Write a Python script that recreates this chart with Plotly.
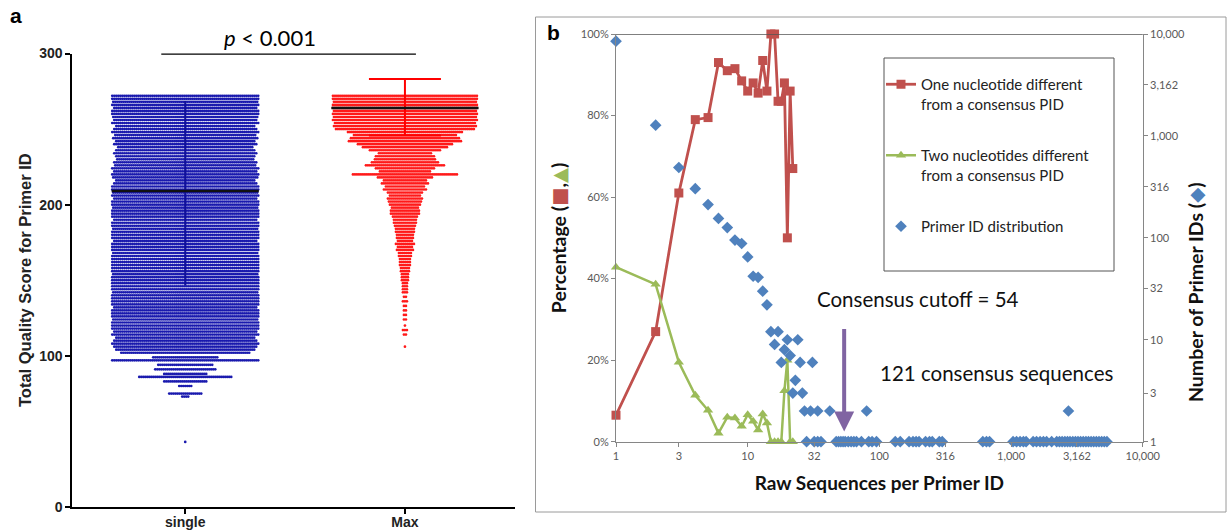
import numpy as np
import plotly.graph_objects as go

# ---------------- Panel a data (dot rows: score level -> number of dots) ----------------
a_categories = ["single", "Max"]
a_positions = [0, 1]

blue_scores = [272, 270, 268, 266, 264, 262, 260, 258, 256, 254,
               252, 250, 248, 246, 244, 242, 240, 238, 236, 234,
               232, 230, 228, 226, 224, 222, 220, 218, 216, 214,
               212, 210, 208, 206, 204, 202, 200, 198, 196, 194,
               192, 190, 188, 186, 184, 182, 180, 178, 176, 174,
               172, 170, 168, 166, 164, 162, 160, 158, 156, 154,
               152, 150, 148, 146, 144, 142, 140, 138, 136, 134,
               132, 130, 128, 126, 124, 122, 120, 118, 116, 114,
               112, 110, 108, 106, 104,
               102, 99, 97, 94, 91, 88, 86, 83, 80, 75, 73, 43]
blue_counts = [74, 74, 73, 74, 72, 74, 74, 73, 72, 74,
               70, 72, 74, 71, 73, 70, 72, 68, 70, 72,
               70, 69, 72, 71, 74, 72, 74, 73, 70, 72,
               74, 74, 73, 74, 72, 74, 74, 73, 74, 74,
               74, 72, 74, 74, 73, 74, 74, 74, 72, 74,
               74, 74, 73, 74, 74, 74, 74, 74, 74, 73,
               74, 74, 74, 74, 74, 73, 74, 74, 74, 74,
               72, 74, 74, 74, 73, 74, 74, 74, 72, 74,
               70, 72, 74, 72, 70,
               65, 33, 74, 28, 31, 22, 47, 22, 7, 17, 4, 1]

red_scores = [272, 270, 268, 266, 264, 262, 260, 258, 256, 254,
              252, 250, 248, 246, 244, 242, 240, 238, 236, 234,
              232, 230, 228, 226, 224, 222, 220, 218, 216, 214,
              212, 210, 208, 206, 204, 202, 200, 198, 196, 194,
              192, 190, 188, 186, 184, 182, 180, 178, 176, 174,
              172, 170, 168, 166, 164, 162, 160, 158, 156, 154,
              152, 150, 148, 146, 144, 142, 139, 136, 133, 130,
              127, 124, 120, 117, 114, 106]
red_counts = [73, 73, 72, 73, 73, 72, 73, 72, 73, 71,
              72, 70, 58, 52, 55, 57, 48, 43, 36, 27,
              30, 31, 34, 40, 30, 26, 53, 28, 22, 24,
              20, 22, 18, 16, 18, 17, 16, 14, 15, 15,
              13, 12, 12, 11, 10, 10, 9, 9, 8, 10,
              8, 9, 7, 7, 6, 6, 6, 5, 5, 4,
              4, 4, 3, 3, 3, 3, 2, 3, 2, 2,
              2, 2, 1, 3, 2, 1]

a_medians = [209, 264]
a_means = [207.5, 264.5]
a_sds = [61, 18.7]
p_label = "<i>p</i> < 0.001"

# ---------------- Panel b data ----------------
raw_seq = [1, 2, 3, 4, 5, 6, 7, 8, 9, 10, 11, 12, 13, 14, 15, 16, 17, 18, 19, 20, 21, 22]
one_nt_pct = [6.5, 27, 61, 79, 79.5, 93, 91, 91.5, 88.5, 86, 88, 85.5, 93.5, 86,
              100, 100, 83.5, 83.5, 88, 50, 86, 67]
two_nt_pct = [42.8, 38.6, 19.5, 11.4, 7.7, 2.1, 6.0, 5.8, 3.8, 6.6, 5.0, 2.9, 6.8, 4.6,
              0, 0, 0, 0, 12.5, 20, 0, 0]

pid_x = [1, 2, 3, 4, 5, 6, 7, 8, 9, 10, 11, 12, 13, 14, 15, 16, 17, 18, 19, 20,
         21, 22, 23, 24, 25, 26, 27, 30, 31, 34, 42, 80, 2725,
         28, 32, 34, 36, 47, 49, 51, 53, 55, 58, 61, 64, 67, 73, 83, 88, 95,
         132, 144, 168, 180, 190, 200, 224, 240, 252, 285, 300, 610, 650, 686,
         1035, 1100, 1170, 1240, 1300, 1470, 1560, 1660, 1760, 1860, 2031,
         2220, 2330, 2440, 2560, 2680, 2800, 2940, 3080, 3220, 3370, 3530, 3700,
         3870, 4050, 4240, 4440, 4650, 4870, 5100, 5340]
pid_n = [8500, 1276, 490, 304, 212, 155, 126, 95, 88, 65, 42, 41, 30, 22, 12, 9, 12, 6, 8, 10,
         7, 3, 4, 10, 6, 3, 2, 2, 6, 2, 2, 2, 2,
         1, 1, 1, 1, 1, 1, 1, 1, 1, 1, 1, 1, 1, 1, 1, 1, 1,
         1, 1, 1, 1, 1, 1, 1, 1, 1, 1, 1, 1, 1, 1,
         1, 1, 1, 1, 1, 1, 1, 1, 1, 1, 1,
         1, 1, 1, 1, 1, 1, 1, 1, 1, 1, 1, 1,
         1, 1, 1, 1, 1, 1, 1, 1]

log_ticks = [1, 3, 10, 32, 100, 316, 1000, 3162, 10000]
log_tick_text = ["1", "3", "10", "32", "100", "316", "1,000", "3,162", "10,000"]
pct_ticks = [0, 20, 40, 60, 80, 100]
pct_tick_text = ["0%", "20%", "40%", "60%", "80%", "100%"]
cutoff = 54

# ---------------- Layout helpers ----------------
W, H = 1229, 531
def px(x):
    return x / W
def py(y):
    return 1 - y / H

A_XRANGE = [-0.514, 1.5]
DOT_DX = 0.0091  # ~2 px between dots in a row


def dot_rows(center, scores, counts):
    xs, ys = [], []
    for s, n in zip(scores, counts):
        for i in range(n):
            xs.append(center + (i - (n - 1) / 2) * DOT_DX)
            ys.append(s)
    return xs, ys

fig = go.Figure()

bx, by = dot_rows(a_positions[0], blue_scores, blue_counts)
rx, ry = dot_rows(a_positions[1], red_scores, red_counts)

fig.add_trace(go.Scatter(x=bx, y=by, mode="markers", xaxis="x", yaxis="y",
                         marker=dict(size=2.7, color="#1a1aae"), showlegend=False,
                         hoverinfo="skip"))
fig.add_trace(go.Scatter(x=rx, y=ry, mode="markers", xaxis="x", yaxis="y",
                         marker=dict(size=2.7, color="#ff1a1a"), showlegend=False,
                         hoverinfo="skip"))
# mean +/- SD bars
for pos, m, sd, col, cap in zip(a_positions, a_means, a_sds, ["#10109a", "#ff0000"], [0, 36]):
    fig.add_trace(go.Scatter(x=[pos], y=[m], mode="markers", xaxis="x", yaxis="y",
                             marker=dict(size=1, color=col, opacity=0),
                             error_y=dict(type="data", array=[sd], color=col,
                                          thickness=2, width=cap),
                             showlegend=False, hoverinfo="skip"))

# ---------------- Panel b traces ----------------
fig.add_trace(go.Scatter(x=raw_seq, y=one_nt_pct, xaxis="x2", yaxis="y2",
                         mode="lines+markers", cliponaxis=False,
                         name="One nucleotide different<br>from a consensus PID",
                         legendgroup="g1",
                         line=dict(color="#c0504d", width=2.8),
                         marker=dict(symbol="square", size=9, color="#c0504d")))
fig.add_trace(go.Scatter(x=raw_seq, y=two_nt_pct, xaxis="x2", yaxis="y2",
                         mode="lines+markers", cliponaxis=False,
                         name="Two nucleotides different<br>from a consensus PID",
                         legendgroup="g2",
                         line=dict(color="#9bbb59", width=2.5),
                         marker=dict(symbol="triangle-up", size=9, color="#9bbb59")))
fig.add_trace(go.Scatter(x=pid_x, y=pid_n, xaxis="x2", yaxis="y3",
                         mode="markers", cliponaxis=False,
                         name="Primer ID distribution", legendgroup="g3",
                         marker=dict(symbol="diamond", size=9, color="#4f81bd")))

gray = "#868686"
tick_font_b = dict(family="Lato", size=11, color="#595959")
title_family = "Lato, 'DejaVu Sans', sans-serif"
title_font_b = dict(family=title_family, size=19, color="#111111", weight="bold")

shapes = []
for pos, med in zip(a_positions, a_medians):
    shapes.append(dict(type="line", xref="x", yref="y", x0=pos - 0.335, x1=pos + 0.335,
                       y0=med, y1=med, line=dict(color="#111111", width=2.5)))
# significance bar
shapes.append(dict(type="line", xref="x", yref="y", x0=-0.109, x1=1.05, y0=300, y1=300,
                   line=dict(color="black", width=2.5)))
# panel b frame
shapes.append(dict(type="rect", xref="paper", yref="paper", x0=px(535.5), x1=px(1226),
                   y0=py(512), y1=py(17), line=dict(color="#9a9a9a", width=1)))
# top line at 100%
shapes.append(dict(type="line", xref="x2 domain", yref="y2", x0=0, x1=1, y0=100, y1=100,
                   line=dict(color="#555555", width=1.3)))
# legend box
shapes.append(dict(type="rect", xref="paper", yref="paper", x0=px(884), x1=px(1114),
                   y0=py(271), y1=py(58), line=dict(color="#555555", width=1)))

ann_common = dict(xref="paper", yref="paper", showarrow=False,
                  xanchor="center", yanchor="middle")
annotations = [
    dict(text="<b>a</b>", x=px(15.5), y=py(16), **ann_common,
         font=dict(family="Liberation Sans", size=21, color="black")),
    dict(text="<b>b</b>", x=px(553), y=py(33), **ann_common,
         font=dict(family="Liberation Sans", size=21, color="black")),
    dict(text=p_label, x=px(270), y=py(37), **ann_common,
         font=dict(family="Lato", size=22, color="black")),
    dict(text="Consensus cutoff = " + str(cutoff), x=px(917.5), y=py(299), **ann_common,
         font=dict(family="Lato", size=20.5, color="#111111")),
    dict(text="121 consensus sequences", x=px(996), y=py(373), **ann_common,
         font=dict(family="Lato", size=20.5, color="#111111")),
    dict(text='Number of Primer IDs (<span style="color:#4f81bd">◆</span>)',
         x=px(1195), y=py(292), textangle=-90, **ann_common,
         font=dict(family=title_family, size=19.5, color="#111111", weight="bold")),
    dict(text="", xref="x2", yref="y2", x=np.log10(cutoff), y=2.5,
         axref="x2", ayref="y2", ax=np.log10(cutoff), ay=28,
         showarrow=True, arrowhead=2, arrowsize=1, arrowwidth=4, arrowcolor="#8064a2"),
]

fig.update_layout(
    width=W, height=H, autosize=False,
    margin=dict(l=0, r=0, t=0, b=0, autoexpand=False),
    paper_bgcolor="white", plot_bgcolor="rgba(0,0,0,0)",
    shapes=shapes, annotations=annotations,
    legend=dict(x=px(881), y=py(68), xanchor="left", yanchor="top",
                bgcolor="rgba(0,0,0,0)", borderwidth=0, tracegroupgap=29,
                valign="top", font=dict(family="Lato", size=15, color="#222222")),
    xaxis=dict(domain=[px(72.3), px(514.8)], range=A_XRANGE, anchor="y", automargin=False,
               tickvals=a_positions, ticktext=a_categories,
               showline=True, linecolor="black", linewidth=2, ticks="outside",
               ticklen=5, tickwidth=2, tickcolor="black", showgrid=False, zeroline=False,
               ticklabelstandoff=-4,
               tickfont=dict(family="Liberation Sans", size=14, color="#222222", weight="bold")),
    yaxis=dict(domain=[py(506.9), py(53.5)], range=[0, 300], anchor="x", automargin=False,
               tickvals=[0, 100, 200, 300],
               showline=True, linecolor="black", linewidth=2, ticks="outside",
               ticklen=5, tickwidth=2, tickcolor="black", showgrid=False, zeroline=False,
               tickfont=dict(family="Liberation Sans", size=14, color="#222222", weight="bold"),
               title=dict(text="Total Quality Score for Primer ID", standoff=3,
                          font=dict(family="Liberation Sans", size=16.5, color="#222222",
                                    weight="bold"))),
    xaxis2=dict(domain=[px(616), px(1142.8)], type="log", range=[0, 4], anchor="y2",
                automargin=False,
                tickvals=log_ticks, ticktext=log_tick_text,
                showline=True, linecolor=gray, linewidth=1, ticks="outside",
                ticklen=4, tickcolor=gray, showgrid=False, zeroline=False,
                tickfont=tick_font_b,
                title=dict(text="Raw Sequences per Primer ID", standoff=15, font=title_font_b)),
    yaxis2=dict(domain=[py(441.7), py(34)], range=[0, 100], anchor="x2", automargin=False,
                tickvals=pct_ticks, ticktext=pct_tick_text,
                showline=True, linecolor=gray, linewidth=1, ticks="outside",
                ticklen=4, tickcolor=gray, showgrid=False, zeroline=False,
                tickfont=tick_font_b,
                title=dict(text='Percentage (<span style="color:#c0504d">■</span>,'
                                '<span style="color:#9bbb59">▲</span>)',
                           standoff=8,
                           font=dict(family=title_family, size=19.5, color="#111111",
                                     weight="bold"))),
    yaxis3=dict(overlaying="y2", side="right", type="log", range=[0, 4], anchor="x2",
                automargin=False,
                tickvals=log_ticks, ticktext=log_tick_text,
                showline=True, linecolor=gray, linewidth=1, ticks="outside",
                ticklen=4, tickcolor=gray, showgrid=False, zeroline=False,
                tickfont=tick_font_b),
)

fig.write_html("out.html")
